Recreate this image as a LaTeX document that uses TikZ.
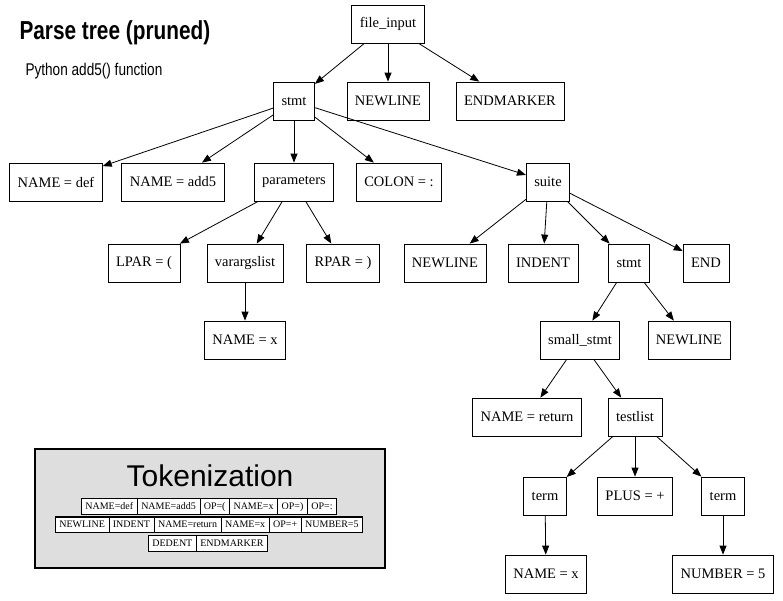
\documentclass[tikz,border=0pt]{standalone}
\usepackage{fontspec}
\setmainfont{Liberation Serif}
\newfontfamily\sansf{Liberation Sans}
\newfontfamily\narrowf[FakeStretch=0.8]{Liberation Sans}
\usetikzlibrary{arrows.meta}
\begin{document}
\begin{tikzpicture}[x=1pt,y=-1pt,
  n/.style={draw,thick,minimum height=38pt,inner xsep=8pt,font=\fontsize{14.5}{16}\selectfont},
  e/.style={-{Triangle[length=9pt,width=7pt]},thick},
  tok/.style={draw,fill=white,inner sep=0pt,font=\fontsize{10}{12}\selectfont}]
\useasboundingbox (0,0) rectangle (783,600);
\node[anchor=west,font=\narrowf\bfseries\fontsize{26}{30}\selectfont] (title) at (16,33) {Parse tree (pruned)};
\node[anchor=west,font=\narrowf\fontsize{17}{20}\selectfont] (sub) at (22,71) {Python add5() function};
\node[n] (fi) at (388,24) {file\_input};
\node[n] (st) at (294,101) {stmt};
\node[n] (nl1) at (388,101) {NEWLINE};
\node[n] (em) at (510,101) {ENDMARKER};
\node[n] (ndef) at (56,182) {NAME = def};
\node[n] (nadd) at (173,182) {NAME = add5};
\node[n] (par) at (294,182) {parameters};
\node[n] (col) at (399,182) {COLON = :};
\node[n] (suite) at (548,182) {suite};
\node[n] (lpar) at (144,263) {LPAR = (};
\node[n] (va) at (245,263) {varargslist};
\node[n] (rpar) at (343,263) {RPAR = )};
\node[n] (nx) at (245,340) {NAME = x};
\node[n] (nl2) at (445,263) {NEWLINE};
\node[n] (ind) at (543,263) {INDENT};
\node[n] (st2) at (629,263) {stmt};
\node[n] (end) at (706,263) {END};
\node[n] (ss) at (580,340) {small\_stmt};
\node[n] (nl3) at (689,340) {NEWLINE};
\node[n] (nret) at (527,417) {NAME = return};
\node[n] (tl) at (635,417) {testlist};
\node[n] (t1) at (545,496) {term};
\node[n] (plus) at (635,496) {PLUS = +};
\node[n] (t2) at (723,496) {term};
\node[n] (nx2) at (546,574) {NAME = x};
\node[n] (num) at (723,574) {NUMBER = 5};
\foreach \a/\b in {fi/st,fi/nl1,fi/em,st/ndef,st/nadd,st/par,st/col,st/suite,
  par/lpar,par/va,par/rpar,va/nx,suite/nl2,suite/ind,suite/st2,suite/end,
  st2/ss,st2/nl3,ss/nret,ss/tl,tl/t1,tl/plus,tl/t2,t1/nx2,t2/num}
  \draw[e] (\a) -- (\b);
\node[draw,line width=2pt,fill=black!13,minimum width=350pt,minimum height=119pt] (tb) at (210,508.5) {};
\node[font=\sansf\fontsize{30}{34}\selectfont] (tt) at (210,476) {Tokenization};
\renewcommand{\arraystretch}{1.25}
\setlength{\tabcolsep}{4pt}
\node[tok] (r1) at (209,506) {\begin{tabular}{|c|c|c|c|c|c|}\hline NAME=def & NAME=add5 & OP=( & NAME=x & OP=) & OP=:\\\hline\end{tabular}};
\node[tok] (r2) at (209,524.5) {\begin{tabular}{|c|c|c|c|c|c|}\hline NEWLINE & INDENT & NAME=return & NAME=x & OP=+ & NUMBER=5\\\hline\end{tabular}};
\node[tok] (r3) at (208,543) {\begin{tabular}{|c|c|}\hline DEDENT & ENDMARKER\\\hline\end{tabular}};
\end{tikzpicture}
\end{document}
